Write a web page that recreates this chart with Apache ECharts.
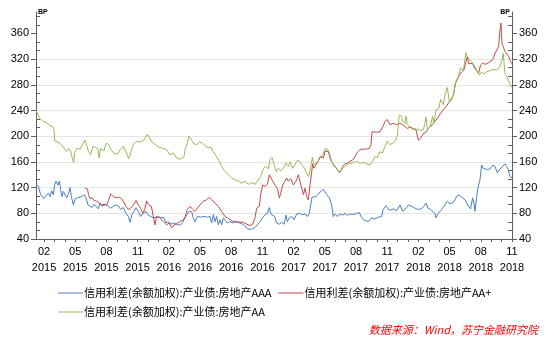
<!DOCTYPE html>
<html><head><meta charset="utf-8">
<script src="https://cdn.jsdelivr.net/npm/echarts@6/dist/echarts.min.js"></script>
<style>html,body{margin:0;padding:0;background:#fff}#c{width:555px;height:341px}</style>
</head><body><div id="c"></div>
<script>
// x = months since 2015-01-01 (1 = Feb 2015, 46 = Nov 2018)
const seriesNames = ['信用利差(余额加权):产业债:房地产AAA','信用利差(余额加权):产业债:房地产AA+','信用利差(余额加权):产业债:房地产AA'];
const tickMonths = [1,4,7,10,13,16,19,22,25,28,31,34,37,40,43,46];
const yLabels = [40,80,120,160,200,240,280,320,360];

const dataAAA = [[0.23,125],[0.46,122],[0.68,109],[0.87,108],[1.0,103],[1.19,108],[1.42,111],[1.58,106],[1.74,115],[1.9,109],[2.03,125],[2.15,130],[2.35,124],[2.47,130],[2.6,117],[2.73,106],[2.86,114],[3.02,109],[3.18,104],[3.37,111],[3.5,120],[3.63,106],[3.82,93],[4.01,103],[4.21,104],[4.4,104],[4.62,106],[4.85,109],[5.04,104],[5.23,93],[5.42,94],[5.62,89],[5.81,94],[6.0,91],[6.22,87],[6.38,96],[6.58,91],[6.77,89],[6.96,94],[7.19,91],[7.41,88],[7.67,91],[7.92,93],[8.18,91],[8.37,86],[8.63,89],[8.88,80],[9.11,75],[9.27,66],[9.46,78],[9.65,83],[9.85,89],[10.07,83],[10.29,75],[10.55,80],[10.81,83],[11.03,77],[11.26,75],[11.51,73],[11.77,74],[11.99,75],[12.22,73],[12.47,74],[12.73,65],[12.96,67],[13.18,63],[13.44,65],[13.69,63],[13.92,62],[14.14,62],[14.33,66],[14.56,73],[14.78,78],[14.97,83],[15.2,83],
[15.3,75],[15.52,67],[15.75,75],[16.07,74],[16.39,75],[16.71,74],[16.96,75],[17.12,65],[17.28,78],[17.44,67],[17.6,75],[17.76,62],[17.92,70],[18.08,62],[18.25,73],[18.4,70],[18.63,65],[18.89,67],[19.14,65],[19.37,67],[19.59,66],[19.85,65],[20.1,63],[20.33,60],[20.55,56],[20.81,55],[21.07,56],[21.29,58],[21.51,62],[21.77,67],[22.03,73],[22.25,78],[22.48,80],[22.67,89],[22.8,79],[22.99,77],[23.18,75],[23.37,65],[23.63,63],[23.85,66],[24.08,63],[24.27,77],[24.4,67],[24.59,73],[24.81,75],[25.04,70],[25.3,79],[25.55,80],[25.81,78],[26.1,79],[26.32,75],[26.51,80],[26.64,93],[26.77,105],[26.96,103],[27.15,106],[27.38,110],[27.6,114],[27.86,117],[28.02,114],[28.18,109],[28.44,104],[28.66,93],[28.82,75],[29.01,79],[29.21,75],[29.46,79],[29.72,77],[29.94,80],[30.17,77],
[30.42,79],[30.74,78],[31.06,80],[31.32,81],[31.54,73],[31.86,69],[32.18,67],[32.5,73],[32.82,71],[33.14,74],[33.46,75],[33.62,86],[33.88,92],[34.11,86],[34.33,85],[34.59,87],[34.91,84],[35.23,93],[35.48,83],[35.71,86],[36.03,93],[36.35,91],[36.67,88],[36.99,86],[37.31,87],[37.53,91],[37.73,96],[37.92,88],[38.18,86],[38.37,83],[38.59,80],[38.69,73],[38.91,80],[39.23,86],[39.55,93],[39.78,99],[40.04,95],[40.36,97],[40.61,104],[40.84,109],[41.0,112],[41.25,104],[41.48,101],[41.64,99],[41.8,91],[42.02,87],[42.21,104],[42.34,96],[42.44,83],[42.6,106],[42.76,122],[42.92,132],[43.08,155],[43.24,150],[43.4,153],[43.63,148],[43.88,149],[44.14,155],[44.36,153],[44.59,143],[44.84,149],[45.1,153],[45.32,157],[45.48,153],[45.64,148],[45.8,137],[46.0,135]];

const dataAAplus = [[4.94,119],[5.17,118],[5.29,109],[5.42,103],[5.62,104],[5.81,100],[6.06,99],[6.32,96],[6.54,93],[6.77,94],[7.03,93],[7.22,101],[7.41,110],[7.67,106],[7.92,104],[8.18,105],[8.44,103],[8.63,99],[8.88,91],[9.11,86],[9.33,88],[9.59,93],[9.85,100],[10.07,93],[10.29,88],[10.49,80],[10.68,86],[10.87,99],[11.06,93],[11.32,91],[11.51,88],[11.67,62],[11.83,75],[12.15,73],[12.47,67],[12.79,62],[13.05,65],[13.28,57],[13.5,62],[13.76,64],[14.08,67],[14.4,70],[14.59,75],[14.78,86],[15.04,91],[15.2,93],
[15.3,86],[15.52,83],[15.75,88],[16.0,93],[16.32,99],[16.64,101],[16.9,105],[17.12,101],[17.44,96],[17.76,91],[18.08,83],[18.4,75],[18.63,73],[18.89,70],[19.21,67],[19.53,67],[19.85,66],[20.17,66],[20.49,63],[20.81,61],[21.07,63],[21.29,73],[21.45,88],[21.71,91],[21.83,109],[22.03,124],[22.25,122],[22.48,125],[22.67,140],[22.8,143],[22.99,130],[23.21,124],[23.44,119],[23.63,104],[23.76,111],[23.95,124],[24.17,130],[24.33,135],[24.49,130],[24.72,134],[24.98,124],[25.23,130],[25.46,140],[25.62,143],[25.78,119],[25.94,109],[26.1,119],[26.26,106],[26.42,101],[26.58,124],[26.71,140],[26.83,157],[26.96,150],[27.15,155],[27.38,162],[27.54,168],[27.7,171],[27.86,166],[28.02,177],[28.18,179],[28.34,176],[28.5,166],[28.66,160],[28.82,162],[29.08,151],[29.3,145],[29.53,145],[29.72,153],[29.94,157],[30.17,158],
[30.42,161],[30.68,163],[30.9,168],[31.12,175],[31.38,179],[31.7,180],[32.02,180],[32.28,181],[32.44,187],[32.54,207],[32.73,205],[32.98,206],[33.3,207],[33.56,214],[33.79,223],[34.01,226],[34.27,218],[34.59,220],[34.91,218],[35.23,220],[35.48,218],[35.71,215],[35.93,212],[36.19,214],[36.51,211],[36.77,210],[36.99,194],[37.21,197],[37.47,204],[37.73,206],[37.95,212],[38.18,215],[38.43,220],[38.69,225],[38.91,230],[39.14,236],[39.39,241],[39.65,246],[39.87,251],[40.1,257],[40.36,263],[40.55,282],[40.74,288],[40.93,295],[41.16,300],[41.38,303],[41.57,306],[41.7,324],[41.83,313],[42.02,311],[42.21,313],[42.41,306],[42.6,309],[42.79,298],[42.98,311],[43.18,314],[43.4,312],[43.62,313],[43.88,316],[44.14,319],[44.36,329],[44.52,332],[44.71,339],[44.84,365],[44.94,376],[45.04,344],[45.16,339],[45.32,332],[45.48,329],[45.68,324],[45.87,316],[46.0,313]];

const dataAA = [[0.23,240],[0.62,227],[0.94,223],[1.26,221],[1.51,217],[1.67,220],[1.83,215],[1.96,211],[2.03,193],[2.22,192],[2.54,189],[2.86,183],[3.18,176],[3.37,181],[3.56,177],[3.72,166],[3.85,159],[3.95,174],[4.14,181],[4.46,180],[4.72,188],[4.94,194],[5.1,186],[5.26,177],[5.49,171],[5.68,184],[5.94,183],[6.19,180],[6.29,166],[6.45,181],[6.77,177],[6.96,189],[7.22,187],[7.44,179],[7.67,174],[8.05,172],[8.31,179],[8.63,184],[8.88,176],[9.14,165],[9.33,174],[9.59,187],[9.85,192],[10.23,191],[10.62,194],[10.94,203],[11.13,198],[11.38,191],[11.71,187],[12.03,183],[12.41,181],[12.79,179],[13.12,171],[13.44,174],[13.76,166],[14.08,164],[14.27,162],[14.46,168],[14.59,181],[14.78,189],[14.91,200],
[15.04,198],[15.2,194],[15.42,188],[15.68,187],[15.94,191],[16.26,189],[16.58,184],[16.8,182],[17.03,183],[17.28,176],[17.6,168],[17.86,161],[18.08,153],[18.4,145],[18.73,140],[19.05,135],[19.37,132],[19.69,130],[20.01,127],[20.33,130],[20.65,125],[20.97,128],[21.29,125],[21.61,132],[21.83,137],[22.09,150],[22.35,153],[22.57,149],[22.73,163],[22.92,167],[23.12,156],[23.31,145],[23.53,150],[23.76,146],[24.01,150],[24.27,158],[24.49,153],[24.66,160],[24.91,150],[25.17,157],[25.42,163],[25.68,158],[25.94,153],[26.19,145],[26.45,137],[26.64,151],[26.8,167],[26.96,156],[27.22,158],[27.54,166],[27.8,171],[28.02,180],[28.25,180],[28.44,174],[28.66,161],[28.89,153],[29.14,150],[29.4,143],[29.62,148],[29.94,153],[30.26,157],
[30.42,157],[30.74,159],[31.06,161],[31.38,158],[31.7,159],[32.02,157],[32.34,155],[32.6,161],[32.82,168],[33.05,167],[33.3,176],[33.53,174],[33.79,184],[34.01,192],[34.27,187],[34.52,189],[34.75,192],[34.97,200],[35.16,233],[35.39,231],[35.48,223],[35.71,220],[35.8,231],[35.93,218],[36.19,215],[36.51,212],[36.83,211],[37.15,209],[37.47,210],[37.63,220],[37.73,230],[37.86,210],[38.11,214],[38.37,231],[38.5,220],[38.69,241],[38.95,243],[39.14,257],[39.39,249],[39.59,267],[39.78,276],[39.97,254],[40.2,256],[40.42,269],[40.61,285],[40.84,293],[41.06,306],[41.32,303],[41.57,330],[41.7,324],[41.89,319],[42.12,316],[42.34,311],[42.6,303],[42.86,295],[43.08,300],[43.3,297],[43.56,300],[43.88,302],[44.2,304],[44.52,303],[44.78,307],[45.0,316],[45.16,329],[45.32,298],[45.48,293],[45.71,285],[45.87,278],[46.0,277]];

const colors = ['#4a7ebb','#be4b48','#98b954'];
const Y_MIN = 40, Y_MAX = 393.33;
const minorTicks = [];
for (let k = 1; k * 40 / 3 + 40 < Y_MAX; k++) { if (k % 3) minorTicks.push(40 + k * 40 / 3); }
const monthTicks = [];
for (let m = 1; m <= 46; m++) monthTicks.push(m);

const axisFont = 'Liberation Sans, Arial, sans-serif';
const cjkFont = '"Noto Sans CJK SC", sans-serif';

function labelAxis(pos) {
  return {
    type: 'value', position: pos, min: Y_MIN, max: Y_MAX, interval: 40,
    name: 'BP', nameLocation: 'end', nameGap: 0,
    nameTextStyle: { fontSize: 7, fontWeight: 'bold', color: '#000', fontFamily: axisFont,
      align: pos === 'left' ? 'left' : 'right', verticalAlign: 'middle', padding: [0, pos === 'left' ? 0 : 2, 0, pos === 'left' ? 2 : 0] },
    axisLine: { show: true, lineStyle: { color: '#5f5f5f', width: 1 } },
    axisTick: { show: true, inside: false, length: 5, customValues: yLabels, lineStyle: { color: '#5f5f5f' } },
    axisLabel: { customValues: yLabels, margin: 7, color: '#000', fontSize: 11, fontFamily: axisFont },
    splitLine: { show: pos === 'left', showMaxLine: false, lineStyle: { color: '#e4e4e4', width: 1 } }
  };
}
function minorAxis(pos) {
  return {
    type: 'value', position: pos, min: Y_MIN, max: Y_MAX,
    axisLine: { show: false },
    axisTick: { show: true, inside: true, length: 4, customValues: minorTicks, lineStyle: { color: '#5f5f5f' } },
    axisLabel: { show: false }, splitLine: { show: false }
  };
}

const chart = echarts.init(document.getElementById('c'), null, { renderer: 'canvas' });
chart.setOption({
  animation: false,
  color: colors,
  grid: { left: 36, right: 43, top: 12, bottom: 102, containLabel: false },
  xAxis: {
    type: 'value', min: 0.23, max: 46,
    axisLine: { show: true, onZero: false, lineStyle: { color: '#5f5f5f', width: 1 } },
    axisTick: { show: true, length: 3, customValues: monthTicks, lineStyle: { color: '#5f5f5f' } },
    axisLabel: {
      customValues: tickMonths, margin: 5, color: '#000', fontSize: 11, lineHeight: 16, fontFamily: axisFont,
      formatter: function (v) {
        const m = Math.round(v);
        const mm = (m % 12) + 1;
        return (mm < 10 ? '0' + mm : '' + mm) + '\n' + (2015 + Math.floor(m / 12));
      }
    },
    splitLine: { show: false }
  },
  yAxis: [labelAxis('left'), labelAxis('right'), minorAxis('left'), minorAxis('right')],
  legend: {
    left: 58, top: 287, width: 470, padding: 0,
    icon: 'path://M0,0 L0.01,0 Z M0,5.5 L25,5.5 L25,6.5 L0,6.5 Z M25,12 L24.99,12 Z',
    itemWidth: 25, itemHeight: 12, itemGap: 7,
    textStyle: { fontSize: 11, color: '#000', fontFamily: cjkFont, padding: [0, 0, 0, -4] },
    data: seriesNames
  },
  series: [
    { name: seriesNames[0], type: 'line', data: dataAAA, symbol: 'none', lineStyle: { width: 1 }, yAxisIndex: 0 },
    { name: seriesNames[1], type: 'line', data: dataAAplus, symbol: 'none', lineStyle: { width: 1 }, yAxisIndex: 0 },
    { name: seriesNames[2], type: 'line', data: dataAA, symbol: 'none', lineStyle: { width: 1 }, yAxisIndex: 0 }
  ],
  graphic: [{
    type: 'text', right: 17, top: 324,
    style: { text: '数据来源：Wind，苏宁金融研究院', fill: '#ff0000', fontSize: 11, fontStyle: 'italic', fontFamily: cjkFont }
  }]
});
</script></body></html>
